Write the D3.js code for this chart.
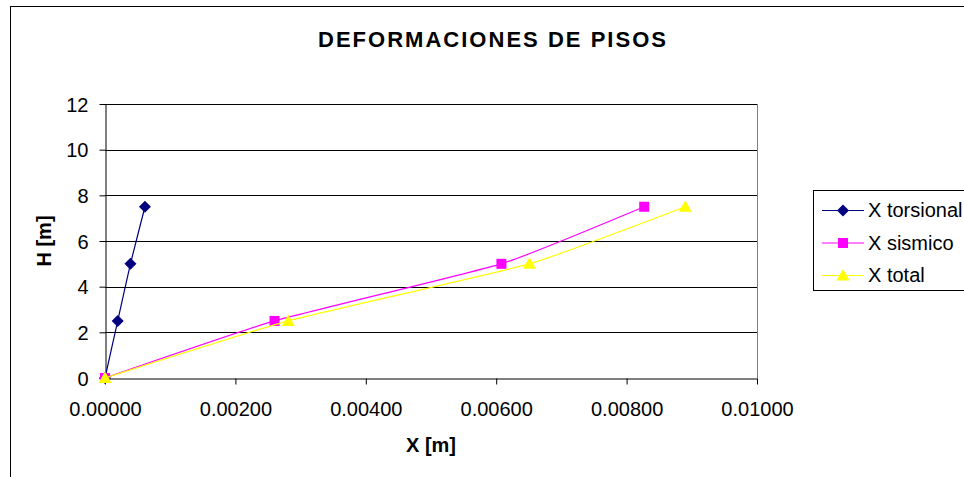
<!DOCTYPE html>
<html>
<head>
<meta charset="utf-8">
<script src="https://cdn.jsdelivr.net/npm/d3@7"></script>
<style>
  body { margin: 0; background: #fff; }
  svg { display: block; }
</style>
</head>
<body>
<div id="chart"></div>
<script>
var width = 964;
var height = 477;

// datos
var alturas = [0, 2.5, 5.0, 7.5];
var xTorsional = [0, 0.000195, 0.00039, 0.000613];
var xSismico = [0, 0.0026, 0.00608, 0.00827];
var xTotal = [0, 0.00281, 0.00651, 0.0089];
var seriesNames = ["X torsional", "X sismico", "X total"];
var seriesColors = ["#000080", "#FF00FF", "#FFFF00"];
var xTickValues = [0, 0.002, 0.004, 0.006, 0.008, 0.01];
var yTickValues = [0, 2, 4, 6, 8, 10, 12];

var plot = {left: 105, right: 757, top: 104, bottom: 378};

var svg = d3.select("#chart")
    .append("svg")
    .attr("width", width)
    .attr("height", height)
    .attr("font-family", "'Liberation Sans', Arial, sans-serif");

// marco del grafico
svg.append("rect")
    .attr("x", 10.5)
    .attr("y", 6.5)
    .attr("width", 1000)
    .attr("height", 600)
    .attr("fill", "#fff")
    .attr("stroke", "#000")
    .attr("stroke-width", 1);

var x = d3.scaleLinear().domain([0, 0.01]).range([plot.left, plot.right]);
var y = d3.scaleLinear().domain([0, 12]).range([plot.bottom, plot.top]);

// lineas de division
svg.append("g")
  .selectAll("line")
  .data(yTickValues.slice(1))
  .enter().append("line")
    .attr("x1", plot.left)
    .attr("x2", plot.right)
    .attr("y1", function(d) { return Math.round(y(d)) + 0.5; })
    .attr("y2", function(d) { return Math.round(y(d)) + 0.5; })
    .attr("stroke", "#000");

// borde derecho del area de trazado
svg.append("line")
    .attr("x1", plot.right + 0.5).attr("x2", plot.right + 0.5)
    .attr("y1", plot.top).attr("y2", plot.bottom)
    .attr("stroke", "#808080");

// ejes
var xAxis = svg.append("g")
    .attr("transform", "translate(0," + (plot.bottom + 0.5) + ")")
    .call(d3.axisBottom(x).tickValues(xTickValues).tickFormat(d3.format(".5f")).tickSize(6).tickSizeOuter(0));
xAxis.select(".domain").attr("stroke", "#000");
xAxis.selectAll(".tick line").attr("stroke", "#000");
xAxis.selectAll("text")
    .attr("font-size", 20)
    .attr("font-family", "'Liberation Sans', Arial, sans-serif")
    .attr("fill", "#000")
    .attr("y", 0)
    .attr("dy", 0)
    .attr("transform", "translate(0,37)");

var yAxis = svg.append("g")
    .attr("transform", "translate(" + (plot.left + 0.5) + ",0)")
    .call(d3.axisLeft(y).tickValues(yTickValues).tickSize(6).tickSizeOuter(0));
yAxis.select(".domain").attr("stroke", "#000");
yAxis.selectAll(".tick line").attr("stroke", "#000");
yAxis.selectAll("text")
    .attr("font-size", 20)
    .attr("font-family", "'Liberation Sans', Arial, sans-serif")
    .attr("fill", "#000")
    .attr("x", -17)
    .attr("dy", "0.36em");

// titulos
svg.append("text")
    .attr("x", 318)
    .attr("y", 47)
    .attr("font-size", 22)
    .attr("font-weight", "bold")
    .attr("textLength", 348)
    .attr("lengthAdjust", "spacing")
    .text("DEFORMACIONES DE PISOS");

svg.append("text")
    .attr("x", (plot.left + plot.right) / 2)
    .attr("y", 452)
    .attr("text-anchor", "middle")
    .attr("font-size", 20)
    .attr("font-weight", "bold")
    .text("X [m]");

svg.append("text")
    .attr("transform", "translate(51," + ((plot.top + plot.bottom) / 2) + ") rotate(-90)")
    .attr("text-anchor", "middle")
    .attr("font-size", 20)
    .attr("font-weight", "bold")
    .text("H [m]");

// series
var series = [xTorsional, xSismico, xTotal].map(function(vals, i) {
  return {
    name: seriesNames[i],
    color: seriesColors[i],
    points: vals.map(function(v, j) { return {x: v, h: alturas[j]}; })
  };
});

var markerPath = [
  "M0,-6L6,0L0,6L-6,0Z",
  "M-5,-5H5V5H-5Z",
  "M0,-6.5L6.5,5H-6.5Z"
];

var line = d3.line()
    .x(function(d) { return x(d.x); })
    .y(function(d) { return y(d.h); })
    .curve(d3.curveCardinal.tension(0.6));

series.forEach(function(s, i) {
  var g = svg.append("g");
  g.append("path")
      .datum(s.points)
      .attr("fill", "none")
      .attr("stroke", s.color)
      .attr("stroke-width", 1.2)
      .attr("d", line);
  g.selectAll("path.mk")
    .data(s.points)
    .enter().append("path")
      .attr("class", "mk")
      .attr("d", markerPath[i])
      .attr("transform", function(d) { return "translate(" + x(d.x) + "," + y(d.h) + ")"; })
      .attr("fill", s.color);
});

// leyenda
var legend = svg.append("g");
legend.append("rect")
    .attr("x", 813.5)
    .attr("y", 190.5)
    .attr("width", 200)
    .attr("height", 100)
    .attr("fill", "#fff")
    .attr("stroke", "#000");

var item = legend.selectAll("g.item")
  .data(series)
  .enter().append("g")
    .attr("class", "item")
    .attr("transform", function(d, i) { return "translate(0," + (210 + i * 32.5) + ")"; });

item.append("line")
    .attr("x1", 822).attr("x2", 864)
    .attr("y1", 0.5).attr("y2", 0.5)
    .attr("stroke", function(d) { return d.color; });

item.append("path")
    .attr("d", function(d, i) { return markerPath[i]; })
    .attr("transform", "translate(843,0.5)")
    .attr("fill", function(d) { return d.color; });

item.append("text")
    .attr("x", 868)
    .attr("y", 0)
    .attr("dy", "0.36em")
    .attr("font-size", 20)
    .text(function(d) { return d.name; });
</script>
</body>
</html>
